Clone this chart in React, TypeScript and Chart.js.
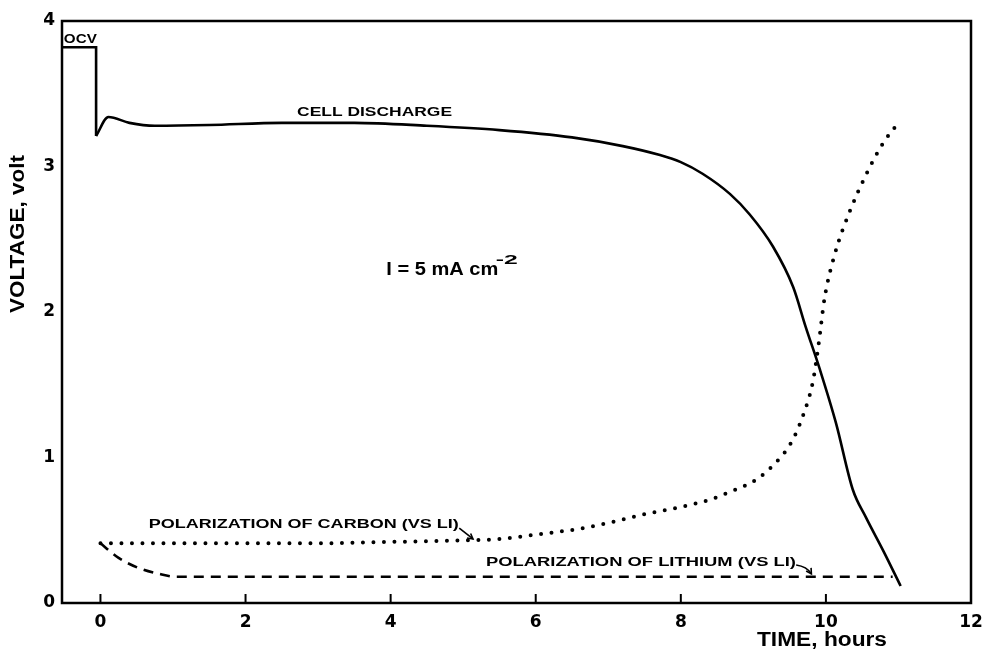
import React, { useEffect, useRef } from "react";
import { Chart, registerables } from "chart.js";

Chart.register(...registerables);

// ---- data ----
const ocvTime = [-0.53, -0.06, -0.06];
const ocvVolt = [3.82, 3.82, 3.21];

const cellTime = [-0.06, 0.11, 0.4, 0.75, 1.5, 2.5, 3.5, 4.5, 5.5, 6.5, 7.2, 7.7, 8.0, 8.3, 8.68, 8.95, 9.27, 9.55, 9.72, 9.92, 10.14, 10.37, 10.55, 10.8, 11.03];
const cellVolt = [3.21, 3.34, 3.3, 3.28, 3.285, 3.3, 3.3, 3.28, 3.25, 3.2, 3.14, 3.08, 3.03, 2.95, 2.81, 2.67, 2.45, 2.17, 1.9, 1.6, 1.235, 0.78, 0.59, 0.35, 0.117];

const carbonTime = [0, 1, 2, 3, 4, 5, 5.5, 6.0, 6.6, 7.0, 7.5, 8.0, 8.4, 8.66, 9.03, 9.3, 9.53, 9.7, 9.82, 9.9, 9.98, 10.13, 10.32, 10.55, 10.8, 11.0];
const carbonVolt = [0.41, 0.41, 0.41, 0.41, 0.42, 0.43, 0.44, 0.47, 0.51, 0.55, 0.61, 0.66, 0.71, 0.76, 0.845, 0.96, 1.11, 1.31, 1.52, 1.78, 2.09, 2.41, 2.68, 2.94, 3.17, 3.3];

const lithTime = [0, 0.25, 0.53, 0.81, 1.05, 2, 4, 6, 8, 10, 10.92];
const lithVolt = [0.41, 0.31, 0.24, 0.2, 0.18, 0.18, 0.18, 0.18, 0.18, 0.18, 0.18];

const xTicks = [0, 2, 4, 6, 8, 10, 12];
const yTicks = [0, 1, 2, 3, 4];

const xTitle = "TIME, hours";
const yTitle = "VOLTAGE, volt";
const ocvLabel = "OCV";
const cellLabel = "CELL DISCHARGE";
const currentLabel = "I = 5 mA cm";
const currentSup = "-2";
const carbonLabel = "POLARIZATION OF CARBON (VS LI)";
const lithLabel = "POLARIZATION OF LITHIUM (VS LI)";

const FONT = "'Liberation Sans', Arial, sans-serif";
const TICK_FONT = "'DejaVu Sans', sans-serif";

const toXY = (xs: number[], ys: number[]) => xs.map((x, i) => ({ x, y: ys[i] }));

function fitText(ctx: CanvasRenderingContext2D, text: string, px: number, py: number, size: number, width: number, style = "bold") {
  ctx.save();
  ctx.font = `${style} ${size}px ${FONT}`;
  ctx.textAlign = "left";
  ctx.textBaseline = "middle";
  const w = ctx.measureText(text).width;
  const sx = width / w;
  ctx.translate(px, py);
  ctx.scale(sx, 1);
  ctx.fillStyle = "#000";
  ctx.fillText(text, 0, 0);
  ctx.restore();
}

function arrow(ctx: CanvasRenderingContext2D, x1: number, y1: number, x2: number, y2: number, curve = 0) {
  ctx.save();
  ctx.strokeStyle = "#000";
  ctx.lineWidth = 1.6;
  ctx.beginPath();
  ctx.moveTo(x1, y1);
  const mx = (x1 + x2) / 2 + curve;
  const my = (y1 + y2) / 2 - curve;
  ctx.quadraticCurveTo(mx, my, x2, y2);
  ctx.stroke();
  const ang = Math.atan2(y2 - my, x2 - mx);
  const L = 6;
  ctx.beginPath();
  ctx.moveTo(x2 - L * Math.cos(ang - 0.5), y2 - L * Math.sin(ang - 0.5));
  ctx.lineTo(x2, y2);
  ctx.lineTo(x2 - L * Math.cos(ang + 0.5), y2 - L * Math.sin(ang + 0.5));
  ctx.stroke();
  ctx.restore();
}

const decorPlugin = {
  id: "decor",
  afterDraw(chart: any) {
    const ctx: CanvasRenderingContext2D = chart.ctx;
    const { left, right, top, bottom } = chart.chartArea;
    const xs = chart.scales.x;
    const ys = chart.scales.y;
    const X = (v: number) => xs.getPixelForValue(v);
    const Y = (v: number) => ys.getPixelForValue(v);

    ctx.save();
    ctx.strokeStyle = "#000";
    ctx.lineWidth = 2.5;
    ctx.strokeRect(left, top, right - left, bottom - top);
    // inward tick marks on the time axis
    ctx.lineWidth = 2;
    xTicks.forEach((t) => {
      const px = X(t);
      ctx.beginPath();
      ctx.moveTo(px, bottom);
      ctx.lineTo(px, bottom - 9);
      ctx.stroke();
    });
    ctx.restore();

    // labels inside the plot
    fitText(ctx, ocvLabel, X(-0.505), Y(3.875), 12, 33);
    fitText(ctx, cellLabel, X(2.71), Y(3.368), 12, 155);
    fitText(ctx, currentLabel, X(3.94), Y(2.29), 18, 112);
    fitText(ctx, currentSup, X(5.45), Y(2.35), 12, 22);
    fitText(ctx, carbonLabel, X(0.666), Y(0.536), 12, 310);
    fitText(ctx, lithLabel, X(5.314), Y(0.275), 12, 310);
    arrow(ctx, X(4.946), Y(0.515), X(5.135), Y(0.44));
    arrow(ctx, X(9.59), Y(0.261), X(9.8), Y(0.2), 3);

    // axis titles
    ctx.save();
    ctx.translate(18, Y(2.536));
    ctx.rotate(-Math.PI / 2);
    fitText(ctx, yTitle, -79, 0, 21, 158);
    ctx.restore();
    fitText(ctx, xTitle, X(9.05), 640, 20, 130);
  },
};

export default function App() {
  const ref = useRef<HTMLCanvasElement | null>(null);
  useEffect(() => {
    document.body.style.margin = "0";
    const canvas = ref.current!;
    const chart = new Chart(canvas, {
      type: "line",
      data: {
        datasets: [
          {
            data: toXY(ocvTime, ocvVolt),
            borderColor: "#000",
            borderWidth: 2.6,
            pointRadius: 0,
            tension: 0,
          },
          {
            data: toXY(cellTime, cellVolt),
            borderColor: "#000",
            borderWidth: 2.6,
            pointRadius: 0,
            cubicInterpolationMode: "monotone",
          },
          {
            data: toXY(carbonTime, carbonVolt),
            borderColor: "#000",
            borderWidth: 4,
            borderDash: [0, 10.5],
            borderCapStyle: "round",
            pointRadius: 0,
            cubicInterpolationMode: "monotone",
          },
          {
            data: toXY(lithTime, lithVolt),
            borderColor: "#000",
            borderWidth: 2.6,
            borderDash: [10, 7],
            pointRadius: 0,
            cubicInterpolationMode: "monotone",
          },
        ],
      },
      options: {
        animation: false,
        responsive: false,
        devicePixelRatio: 1,
        layout: { padding: { top: 21, right: 13, left: 0, bottom: 0 } },
        plugins: { legend: { display: false }, tooltip: { enabled: false } },
        scales: {
          x: {
            type: "linear",
            min: -0.53,
            max: 12,
            afterBuildTicks: (s: any) => {
              s.ticks = xTicks.map((v) => ({ value: v }));
            },
            afterFit: (s: any) => {
              s.height = 49;
              s.paddingLeft = 0;
              s.paddingRight = 0;
            },
            grid: { display: false, drawTicks: false },
            border: { display: false },
            ticks: {
              color: "#000",
              padding: 9,
              font: { family: TICK_FONT, size: 17, weight: "bold" },
              maxRotation: 0,
              autoSkip: false,
            },
          },
          y: {
            type: "linear",
            min: 0,
            max: 4,
            afterBuildTicks: (s: any) => {
              s.ticks = yTicks.map((v) => ({ value: v }));
            },
            afterFit: (s: any) => {
              s.width = 62;
              s.paddingTop = 0;
              s.paddingBottom = 0;
            },
            grid: { display: false, drawTicks: false },
            border: { display: false },
            ticks: {
              color: "#000",
              padding: 7,
              font: { family: TICK_FONT, size: 17, weight: "bold" },
            },
          },
        },
      },
      plugins: [decorPlugin],
    } as any);
    return () => chart.destroy();
  }, []);
  return (
    <div style={{ width: 984, height: 652, background: "#fff" }}>
      <canvas ref={ref} width={984} height={652} style={{ display: "block" }} />
    </div>
  );
}
